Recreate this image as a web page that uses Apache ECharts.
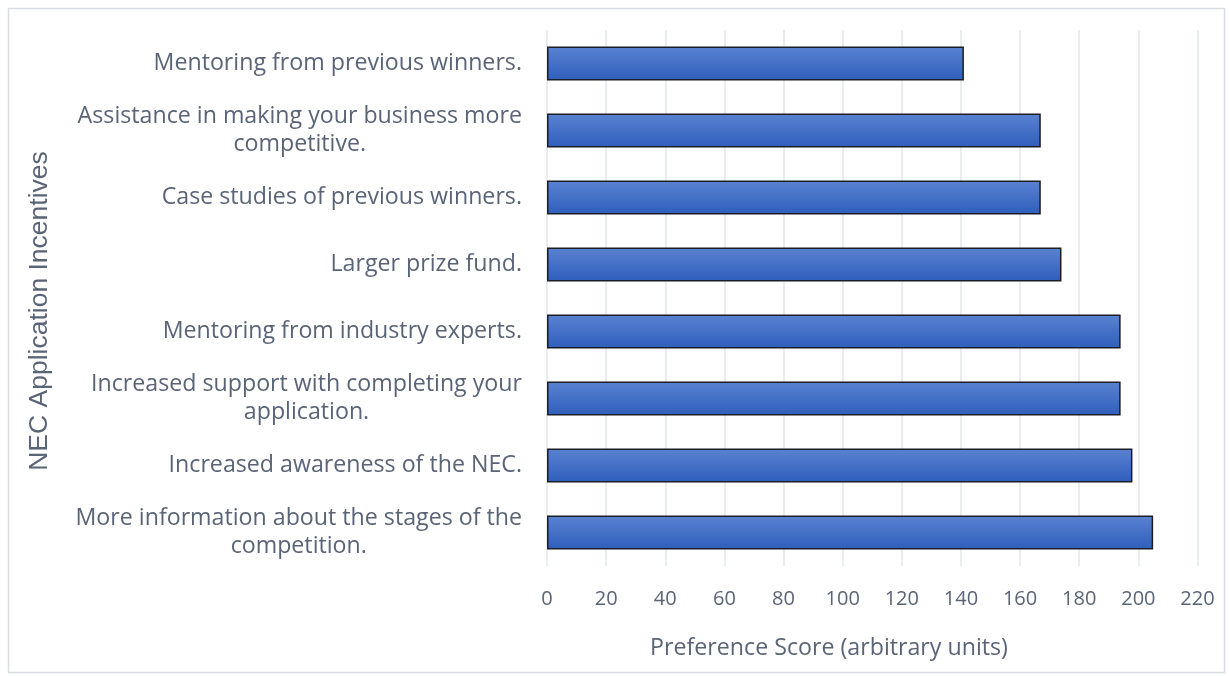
<!DOCTYPE html>
<html>
<head>
<meta charset="utf-8">
<script src="https://cdn.jsdelivr.net/npm/echarts@6/dist/echarts.min.js"></script>
<style>
html,body{margin:0;padding:0;background:#fff;}
#chart{width:1229px;height:676px;}
</style>
</head>
<body>
<div id="chart"></div>
<script>
const categories = [
  "Mentoring from previous winners.",
  "Assistance in making your business more\ncompetitive.",
  "Case studies of previous winners.",
  "Larger prize fund.",
  "Mentoring from industry experts.",
  "Increased support with completing your\napplication.",
  "Increased awareness of the NEC.",
  "More information about the stages of the\ncompetition."
];
const scores = [141, 167, 167, 174, 194, 194, 198, 205];
const xTicks = [0, 20, 40, 60, 80, 100, 120, 140, 160, 180, 200, 220];
const xTitle = "Preference Score (arbitrary units)";
const yTitle = "NEC Application Incentives";

const textColor = "#5a6477";
const fontFam = "'Open Sans', 'Noto Sans', sans-serif";

const chart = echarts.init(document.getElementById('chart'), null, {renderer: 'canvas'});
chart.setOption({
  animation: false,
  backgroundColor: '#ffffff',
  grid: {left: 547, right: 31.5, top: 30, bottom: 110, containLabel: false},
  xAxis: {
    type: 'value',
    min: xTicks[0],
    max: xTicks[xTicks.length - 1],
    interval: 20,
    axisLine: {show: false},
    axisTick: {show: false},
    splitLine: {show: true, lineStyle: {color: '#e2e6ec', width: 1.5}},
    axisLabel: {color: textColor, fontSize: 20, fontFamily: fontFam, margin: 23}
  },
  yAxis: {
    type: 'category',
    data: categories,
    inverse: true,
    axisLine: {show: false},
    axisTick: {show: false},
    splitLine: {show: false},
    axisLabel: {
      margin: 25,
      align: 'right',
      lineHeight: 28,
      formatter: function (v) { return '{c|' + v.split('\n').join('}\n{c|') + '}'; },
      rich: {
        c: {align: 'center', color: textColor, fontSize: 23.2, fontFamily: fontFam, lineHeight: 28}
      }
    }
  },
  series: [{
    type: 'bar',
    data: scores,
    barWidth: 34,
    itemStyle: {
      color: new echarts.graphic.LinearGradient(0, 0, 0, 1, [
        {offset: 0, color: '#5a82d1'},
        {offset: 1, color: '#2e5ebc'}
      ]),
      borderColor: '#1b1e24',
      borderWidth: 1.5
    }
  }],
  graphic: [
    {
      type: 'rect', left: 6, top: 6, z: -10,
      shape: {width: 1216, height: 664},
      style: {fill: 'none', stroke: '#d9dde3', lineWidth: 1.5}
    },
    {
      type: 'text', x: 829, y: 648,
      style: {text: xTitle, fill: textColor, fontSize: 23.2, fontFamily: fontFam, textAlign: 'center', textVerticalAlign: 'middle'}
    },
    {
      type: 'text', x: 40, y: 311, rotation: Math.PI / 2,
      style: {text: yTitle, fill: textColor, fontSize: 26.5, fontFamily: "'Liberation Sans', Arial, sans-serif", textAlign: 'center', textVerticalAlign: 'middle'}
    }
  ]
});
</script>
</body>
</html>
